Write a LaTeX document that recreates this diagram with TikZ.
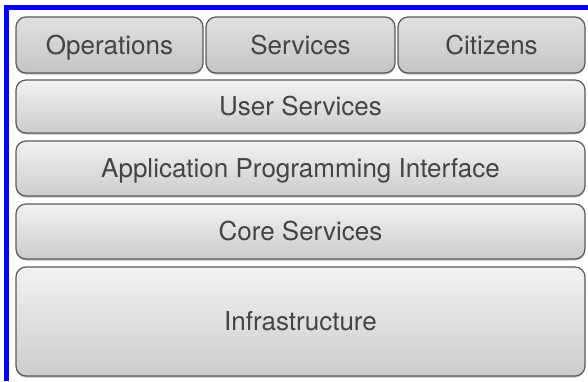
\documentclass[tikz,border=0pt]{standalone}
\usepackage{fontspec}
\setmainfont{TeX Gyre Heros}
\usetikzlibrary{shadows}
\definecolor{edgegray}{HTML}{5A5A5A}
\definecolor{textgray}{HTML}{444444}
\definecolor{frameblue}{HTML}{0000FF}
\tikzset{
  layer/.style={draw=edgegray, line width=1.2pt, rounded corners=10pt,
    top color=white!95!black, bottom color=white!80!black,
    drop shadow={shadow xshift=0pt, shadow yshift=-1.5pt, opacity=0.25, fill=black},
    text=textgray, font=\fontsize{26}{30}\selectfont, inner sep=0pt,
    text height=18pt, text depth=0pt},
  toplayer/.style={layer, top color=white!88!black, bottom color=white!77!black}
}
\begin{document}
\begin{tikzpicture}[x=1pt, y=-1pt]
  \useasboundingbox (0,0) rectangle (588,381);
  \fill[white] (0,0) rectangle (588,381);
  % blue frame along the top and left edges
  \fill[frameblue] (4,5) rectangle (588,10);
  \fill[frameblue] (4,5) rectangle (9,381);
  % top row: three stakeholder groups
  \node[toplayer, minimum width=187pt, minimum height=56pt] (ops) at (109.5,45) {Operations};
  \node[toplayer, minimum width=189pt, minimum height=56pt] (svc) at (300.5,45) {Services};
  \node[toplayer, minimum width=187pt, minimum height=56pt] (cit) at (491.5,45) {Citizens};
  % stacked layers
  \node[layer, minimum width=569pt, minimum height=53pt] (user) at (300.5,106.5) {User Services};
  \node[layer, minimum width=569pt, minimum height=55pt] (api) at (300.5,168.5) {Application Programming Interface};
  \node[layer, minimum width=569pt, minimum height=55pt] (core) at (300.5,231.5) {Core Services};
  \node[layer, minimum width=569pt, minimum height=109pt] (infra) at (300.5,321.5) {Infrastructure};
\end{tikzpicture}
\end{document}
